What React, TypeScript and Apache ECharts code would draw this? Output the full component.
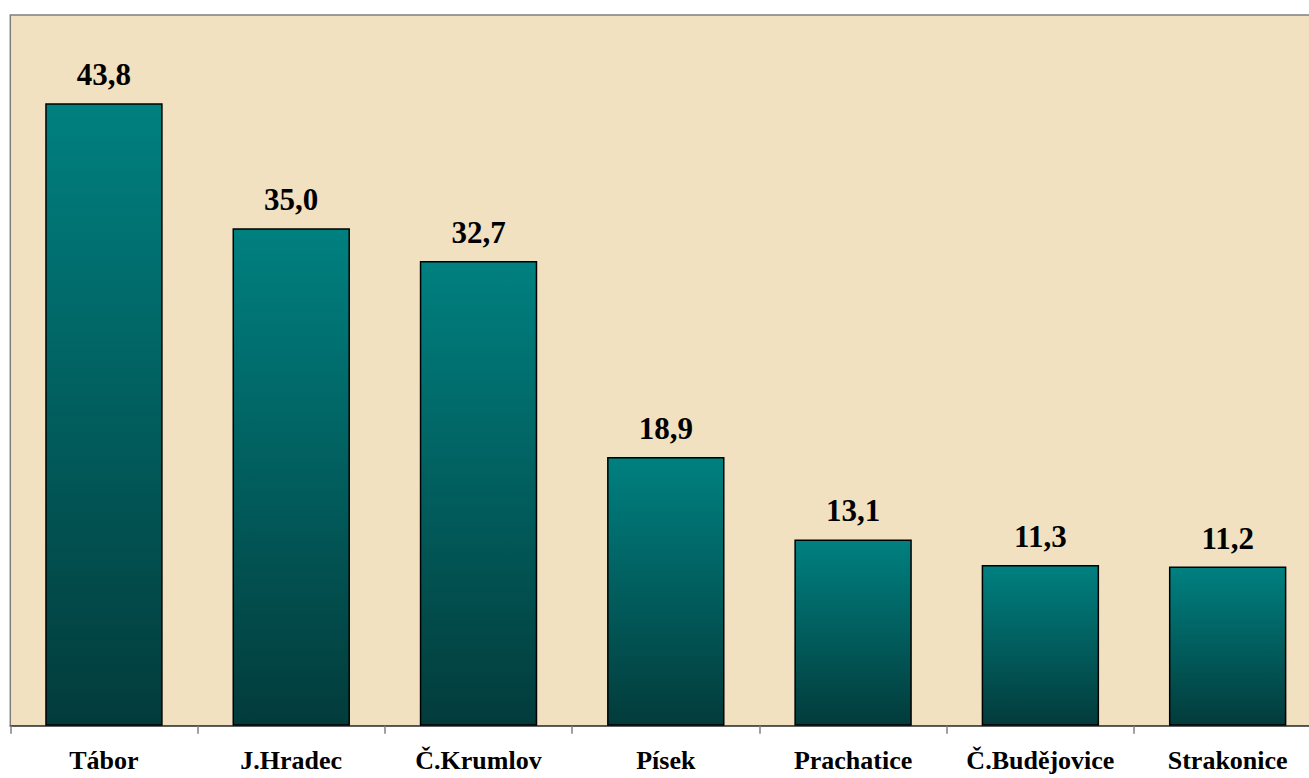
import React, { useEffect, useRef } from "react";
import * as echarts from "echarts";

const categories = ["Tábor", "J.Hradec", "Č.Krumlov", "Písek", "Prachatice", "Č.Budějovice", "Strakonice"];
const values = [43.8, 35.0, 32.7, 18.9, 13.1, 11.3, 11.2];

const FONT = '"Liberation Serif", "Times New Roman", serif';

export default function App() {
  const ref = useRef<HTMLDivElement>(null);
  useEffect(() => {
    document.body.style.margin = "0";
    const chart = echarts.init(ref.current!, null, { renderer: "svg" });
    chart.setOption({
      animation: false,
      backgroundColor: "#ffffff",
      grid: {
        left: 10.3,
        top: 15,
        width: 1311,
        bottom: 52.3,
        outerBoundsMode: "none",
        containLabel: false,
        show: true,
        backgroundColor: "#F1E1C0",
        borderColor: "#7f7f7f",
        borderWidth: 1.5,
      },
      xAxis: {
        type: "category",
        data: categories,
        axisLine: { show: true, lineStyle: { color: "#404040", width: 1.5 } },
        axisTick: { show: true, length: 8, lineStyle: { color: "#808080", width: 1.5 } },
        axisLabel: {
          margin: 25,
          lineHeight: 20,
          fontFamily: FONT,
          fontWeight: "bold",
          fontSize: 26,
          color: "#000",
          interval: 0,
        },
      },
      yAxis: {
        type: "value",
        min: 0,
        max: 50,
        show: false,
        splitLine: { show: false },
      },
      series: [
        {
          type: "bar",
          data: values,
          barWidth: "62.7%",
          itemStyle: {
            color: new echarts.graphic.LinearGradient(0, 0, 0, 1, [
              { offset: 0, color: "#008080" },
              { offset: 1, color: "#033b3b" },
            ]),
            borderColor: "#000",
            borderWidth: 1.5,
          },
          label: {
            show: true,
            position: "top",
            distance: 13,
            fontFamily: FONT,
            fontWeight: "bold",
            fontSize: 31,
            color: "#000",
            formatter: (p: any) => p.value.toFixed(1).replace(".", ","),
          },
        },
      ],
    });
    return () => chart.dispose();
  }, []);
  return <div ref={ref} style={{ width: 1309, height: 778 }} />;
}
